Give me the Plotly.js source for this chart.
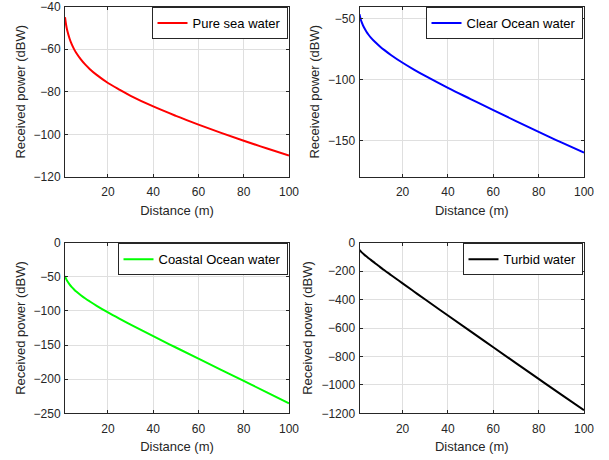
<!DOCTYPE html>
<html>
<head>
<meta charset="utf-8">
<script src="https://cdn.plot.ly/plotly-3.0.1.min.js"></script>
<style>html,body{margin:0;padding:0;background:#fff;}#chart{width:609px;height:460px;}</style>
</head>
<body>
<div id="chart"></div>
<script>
// Distance (m)
var distance = [1, 1.5, 2, 3, 4, 5, 6, 8, 10, 12, 15, 20, 25, 30, 40, 50, 60, 70, 80, 90, 100];
// Received power (dBW)
var pureSea = [-45.0, -48.7, -51.3, -55.0, -57.8, -60.0, -61.8, -64.8, -67.3, -69.4, -72.1, -75.9, -79.0, -81.9, -86.9, -91.3, -95.4, -99.3, -103.0, -106.5, -109.9];
var clearOcean = [-46.3, -50.2, -53.0, -57.3, -60.5, -63.2, -65.5, -69.4, -72.8, -75.8, -80.0, -86.2, -91.8, -97.0, -106.8, -116.0, -125.1, -134.1, -143.0, -151.6, -160.0];
var coastalOcean = [-48.8, -53.0, -56.3, -61.2, -65.2, -68.5, -71.6, -76.9, -81.8, -86.2, -92.5, -102.2, -111.3, -120.1, -137.0, -153.6, -170.0, -186.3, -202.6, -218.9, -235.3];
var turbid = [-51, -59.5, -68, -82.5, -96, -109, -121, -146, -170, -194, -228.5, -286, -343, -399.5, -512, -624, -735.5, -847, -958, -1069, -1178];

var seriesNames = ["Pure sea water", "Clear Ocean water", "Coastal Ocean water", "Turbid water"];
var seriesColors = ["#ff0000", "#0000ff", "#00ff00", "#000000"];
var seriesData = [pureSea, clearOcean, coastalOcean, turbid];

var xTicks = [20, 40, 60, 80, 100];
var yTicks1 = [-120, -100, -80, -60, -40];
var yTicks2 = [-150, -100, -50];
var yTicks3 = [-250, -200, -150, -100, -50, 0];
var yTicks4 = [-1200, -1000, -800, -600, -400, -200, 0];
var yRanges = [[-120, -40], [-180, -40], [-250, 0], [-1200, 0]];
var yTickSets = [yTicks1, yTicks2, yTicks3, yTicks4];

var W = 609, H = 460;
var xDomL = [65 / W, 289 / W];
var xDomR = [359.5 / W, 584 / W];
var yDomT = [(H - 177) / H, (H - 6.5) / H];
var yDomB = [(H - 413.3) / H, (H - 242.7) / H];
var xDoms = [xDomL, xDomR, xDomL, xDomR];
var yDoms = [yDomT, yDomT, yDomB, yDomB];

var font = "Liberation Sans, Arial, Helvetica, sans-serif";
var axisColor = "#262626";
var gridColor = "#dfdfdf";

var traces = [];
var layout = {
  width: W, height: H,
  margin: {l: 0, r: 0, t: 0, b: 0},
  paper_bgcolor: "#ffffff",
  plot_bgcolor: "#ffffff",
  font: {family: font, size: 12, color: axisColor},
  showlegend: true
};

for (var i = 0; i < 4; i++) {
  var sfx = i === 0 ? "" : String(i + 1);
  var legName = "legend" + sfx;
  traces.push({
    type: "scatter", mode: "lines",
    x: distance, y: seriesData[i],
    name: seriesNames[i],
    line: {color: seriesColors[i], width: 2, shape: "spline", smoothing: 1},
    xaxis: "x" + sfx, yaxis: "y" + sfx,
    legend: legName
  });
  layout["xaxis" + sfx] = {
    domain: xDoms[i], anchor: "y" + sfx,
    range: [1, 100], tickvals: xTicks,
    ticks: "inside", ticklen: 3, tickcolor: axisColor, tickwidth: 1,
    ticklabelstandoff: 4, ticklabeloverflow: "allow",
    showline: true, linecolor: axisColor, linewidth: 1, mirror: "ticks",
    showgrid: true, gridcolor: gridColor, gridwidth: 1, zeroline: false,
    tickfont: {family: font, size: 12, color: axisColor},
    title: {text: "Distance (m)", font: {family: font, size: 13, color: axisColor}, standoff: 7}
  };
  layout["yaxis" + sfx] = {
    domain: yDoms[i], anchor: "x" + sfx,
    range: yRanges[i], tickvals: yTickSets[i],
    ticks: "inside", ticklen: 3, tickcolor: axisColor, tickwidth: 1,
    ticklabelstandoff: 1, ticklabeloverflow: "allow",
    showline: true, linecolor: axisColor, linewidth: 1, mirror: "ticks",
    showgrid: true, gridcolor: gridColor, gridwidth: 1, zeroline: false,
    tickfont: {family: font, size: 12, color: axisColor},
    title: {text: "Received power (dBW)", font: {family: font, size: 13, color: axisColor}, standoff: 5}
  };
  layout[legName] = {
    x: xDoms[i][1] - 1.5 / W, y: yDoms[i][1] - 0.5 / H,
    xanchor: "right", yanchor: "top",
    xref: "paper", yref: "paper",
    bgcolor: "#ffffff", bordercolor: axisColor, borderwidth: 1,
    font: {family: font, size: 13, color: "#000000"},
    itemwidth: 30
  };
}

Plotly.newPlot("chart", traces, layout, {staticPlot: true, displayModeBar: false});
</script>
</body>
</html>
